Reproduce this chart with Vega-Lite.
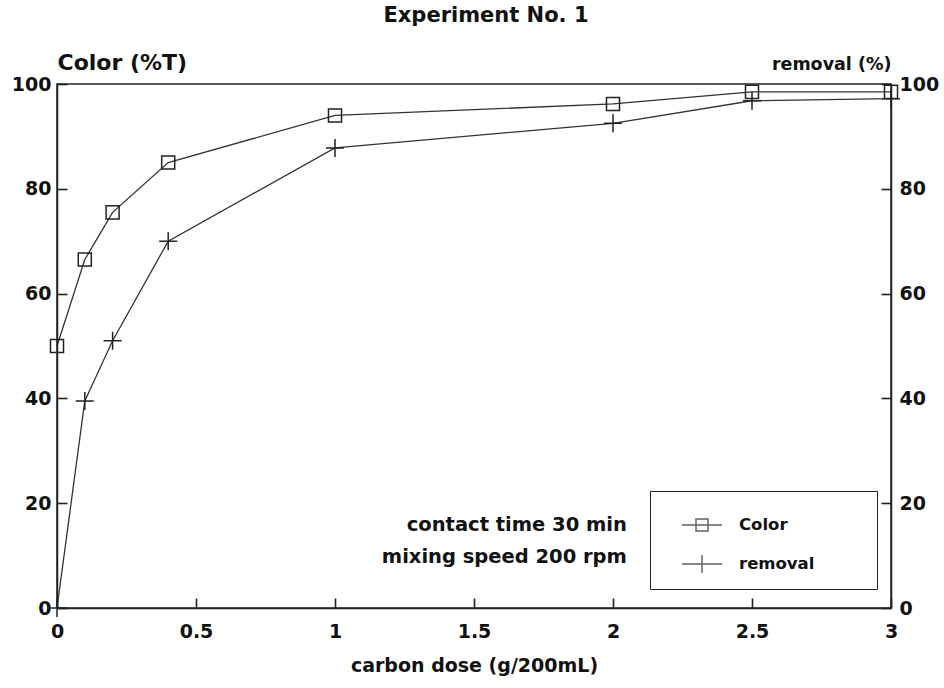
{
  "$schema": "https://vega.github.io/schema/vega-lite/v6.json",
  "width": 834,
  "height": 524,
  "autosize": "none",
  "padding": {"left": 57, "top": 84, "right": 53, "bottom": 80},
  "background": "white",
  "config": {
    "font": "DejaVu Sans",
    "view": {"stroke": "#222", "strokeWidth": 1.5},
    "axis": {
      "grid": false,
      "zindex": 1,
      "domainColor": "#222",
      "domainWidth": 1.5,
      "ticks": true,
      "tickColor": "#222",
      "tickWidth": 1.6,
      "tickSize": -10,
      "labelFlush": false,
      "labelFont": "DejaVu Sans",
      "labelFontWeight": "bold",
      "labelFontSize": 19,
      "labelColor": "#111",
      "titleFont": "DejaVu Sans",
      "titleFontWeight": "bold",
      "titleFontSize": 20,
      "titleColor": "#111"
    }
  },
  "title": {
    "text": "Experiment No. 1",
    "font": "DejaVu Sans",
    "fontSize": 21,
    "fontWeight": "bold",
    "color": "#111",
    "anchor": "middle",
    "dx": 12,
    "offset": 25
  },
  "datasets": {
    "color": [
      {"dose": 0, "pct": 50, "series": "Color"},
      {"dose": 0.1, "pct": 66.5, "series": "Color"},
      {"dose": 0.2, "pct": 75.5, "series": "Color"},
      {"dose": 0.4, "pct": 85, "series": "Color"},
      {"dose": 1, "pct": 94, "series": "Color"},
      {"dose": 2, "pct": 96.2, "series": "Color"},
      {"dose": 2.5, "pct": 98.5, "series": "Color"},
      {"dose": 3, "pct": 98.5, "series": "Color"}
    ],
    "removal": [
      {"dose": 0, "pct": 0, "series": "removal"},
      {"dose": 0.1, "pct": 39.5, "series": "removal"},
      {"dose": 0.2, "pct": 51, "series": "removal"},
      {"dose": 0.4, "pct": 70, "series": "removal"},
      {"dose": 1, "pct": 87.8, "series": "removal"},
      {"dose": 2, "pct": 92.5, "series": "removal"},
      {"dose": 2.5, "pct": 96.8, "series": "removal"},
      {"dose": 3, "pct": 97.2, "series": "removal"}
    ],
    "notes": [
      {"dose": 2.05, "pct": 15.8, "label": "contact time 30 min"},
      {"dose": 2.05, "pct": 9.7, "label": "mixing speed 200 rpm"}
    ]
  },
  "layer": [
    {
      "encoding": {
        "x": {
          "field": "dose", "type": "quantitative",
          "scale": {"domain": [0, 3]},
          "axis": {"title": "carbon dose (g/200mL)", "values": [0, 0.5, 1, 1.5, 2, 2.5, 3], "format": "~g", "ticks": true, "tickSize": -10, "labelPadding": 24, "titleFontSize": 19, "titlePadding": 15}
        },
        "y": {
          "field": "pct", "type": "quantitative",
          "scale": {"domain": [0, 100]},
          "axis": {"orient": "left", "title": "Color (%T)", "values": [0, 20, 40, 60, 80, 100], "ticks": true, "tickSize": -10, "labelPadding": 16, "titleFontSize": 22, "titleAngle": 0, "titleAlign": "left", "titleBaseline": "alphabetic", "titleX": 0, "titleY": -15}
        }
      },
      "layer": [
        {"data": {"name": "color"}, "mark": {"type": "line", "color": "#333", "strokeWidth": 1.3}},
        {"data": {"name": "color"}, "mark": {"type": "point", "shape": "square", "size": 170, "filled": false, "color": "#222", "strokeWidth": 1.5, "opacity": 1}},
        {
          "data": {"name": "notes"},
          "mark": {"type": "text", "align": "right", "baseline": "middle", "font": "DejaVu Sans", "fontWeight": "bold", "fontSize": 19.5, "color": "#111"},
          "encoding": {"text": {"field": "label"}}
        },
        {
          "data": {"name": "color"},
          "transform": [{"filter": "datum.dose < 0"}],
          "mark": {"type": "point", "size": 1600, "filled": false, "stroke": "#222", "strokeWidth": 1.5},
          "encoding": {
            "shape": {
              "field": "series", "type": "nominal",
              "scale": {"domain": ["Color", "removal"], "range": ["M-0.1,0H1.9M0.6,-0.3H1.2V0.3H0.6Z", "M-0.1,0H1.9M0.9,-0.45V0.45"]},
              "legend": {
                "orient": "none", "legendX": 593, "legendY": 407,
                "title": null,
                "strokeColor": "#222", "fillColor": "white",
                "padding": 13,
                "labelFont": "DejaVu Sans", "labelFontSize": 16.5, "labelFontWeight": "bold", "labelColor": "#111",
                "labelOffset": 34,
                "labelExpr": "datum.label + '\u2003\u2003\u2003\u200b'",
                "labelLimit": 300,
                "symbolStrokeColor": "#222", "symbolStrokeWidth": 1.5, "symbolFillColor": "transparent", "symbolSize": 1600,
                "rowPadding": 9
              }
            }
          }
        }
      ]
    },
    {
      "data": {"name": "removal"},
      "encoding": {
        "x": {
          "field": "dose", "type": "quantitative",
          "scale": {"domain": [0, 3]},
          "axis": {"title": "carbon dose (g/200mL)", "values": [0, 0.5, 1, 1.5, 2, 2.5, 3], "format": "~g", "ticks": true, "tickSize": -10, "labelPadding": 24, "titleFontSize": 19, "titlePadding": 15}
        },
        "y": {
          "field": "pct", "type": "quantitative",
          "scale": {"domain": [0, 100]},
          "axis": {"orient": "right", "title": "removal (%)", "values": [0, 20, 40, 60, 80, 100], "ticks": true, "tickSize": -10, "labelPadding": 18, "titleFontSize": 17.5, "titleAngle": 0, "titleAlign": "right", "titleBaseline": "alphabetic", "titleX": 0, "titleY": -15}
        }
      },
      "layer": [
        {"mark": {"type": "line", "color": "#333", "strokeWidth": 1.3}},
        {"mark": {"type": "point", "shape": "M-1,0H1M0,-1V1", "size": 324, "filled": false, "color": "#222", "strokeWidth": 1.5, "opacity": 1}}
      ]
    }
  ],
  "resolve": {"axis": {"y": "independent"}}
}
